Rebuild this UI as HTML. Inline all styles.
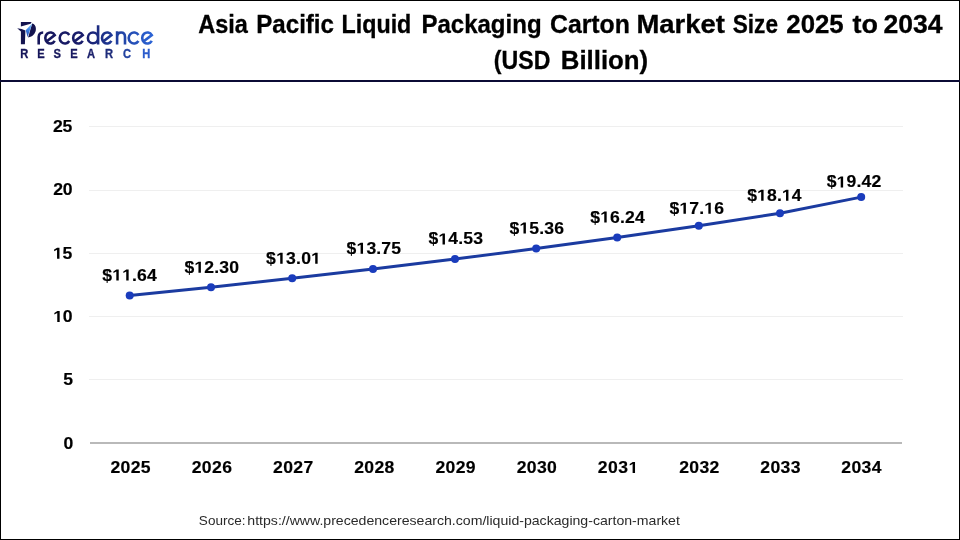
<!DOCTYPE html>
<html><head><meta charset="utf-8">
<style>
html,body{margin:0;padding:0;background:#fff;}
svg{display:block;will-change:transform;}
.b text{font-family:"Liberation Sans",sans-serif;font-weight:bold;font-size:16px;}
.b{fill:#000;stroke:#000;stroke-width:0.15px;}
.t{font-family:"Liberation Sans",sans-serif;font-weight:bold;font-size:25.2px;fill:#000;stroke:#000;stroke-width:0.3px;}
.s{font-family:"Liberation Sans",sans-serif;font-size:13px;fill:#2a2a2a;}
</style></head><body>
<svg width="960" height="540" viewBox="0 0 960 540">
<rect x="0.5" y="0.5" width="959" height="539" fill="#fff" stroke="#000" stroke-width="1"/>
<rect x="0" y="80" width="960" height="2" fill="#0b0b35"/>
<text x="198.16" y="32.60" class="t" textLength="49.69" lengthAdjust="spacingAndGlyphs">Asia</text><text x="256.19" y="32.60" class="t" textLength="77.82" lengthAdjust="spacingAndGlyphs">Pacific</text><text x="341.54" y="32.60" class="t" textLength="69.79" lengthAdjust="spacingAndGlyphs">Liquid</text><text x="421.39" y="32.60" class="t" textLength="120.22" lengthAdjust="spacingAndGlyphs">Packaging</text><text x="549.98" y="32.60" class="t" textLength="79.96" lengthAdjust="spacingAndGlyphs">Carton</text><text x="636.46" y="32.60" class="t" textLength="88.57" lengthAdjust="spacingAndGlyphs">Market</text><text x="732.75" y="32.60" class="t" textLength="45.22" lengthAdjust="spacingAndGlyphs">Size</text><text x="786.31" y="32.60" class="t" textLength="57.41" lengthAdjust="spacingAndGlyphs">2025</text><text x="852.47" y="32.60" class="t" textLength="25.48" lengthAdjust="spacingAndGlyphs">to</text><text x="883.58" y="32.60" class="t" textLength="59.06" lengthAdjust="spacingAndGlyphs">2034</text><text x="493.85" y="68.50" class="t" textLength="56.52" lengthAdjust="spacingAndGlyphs">(USD</text><text x="560.77" y="68.50" class="t" textLength="87.41" lengthAdjust="spacingAndGlyphs">Billion)</text>
<rect x="89" y="126" width="814" height="1" fill="#efefef"/><rect x="89" y="190" width="814" height="1" fill="#efefef"/><rect x="89" y="253" width="814" height="1" fill="#efefef"/><rect x="89" y="316" width="814" height="1" fill="#efefef"/><rect x="89" y="379" width="814" height="1" fill="#efefef"/>
<rect x="90" y="442" width="812" height="2" fill="#b9b9b9"/>
<g class="b"><g transform="translate(67.90,0) scale(1.1,1) translate(-67.90,0)"><text x="63.80" y="448.70">0</text></g><g transform="translate(67.72,0) scale(1.1,1) translate(-67.72,0)"><text x="63.61" y="385.40">5</text></g><g transform="translate(63.03,0) scale(1.1,1) translate(-63.03,0)"><text x="62.67" y="322.10">0</text><path transform="translate(54.05,322.10) scale(0.00781,-0.00781)" d="M478,0 L478,1170 L140,959 L140,1180 L493,1409 L759,1409 L759,0 Z"/></g><g transform="translate(62.92,0) scale(1.1,1) translate(-62.92,0)"><text x="62.45" y="258.80">5</text><path transform="translate(53.85,258.80) scale(0.00781,-0.00781)" d="M478,0 L478,1170 L140,959 L140,1180 L493,1409 L759,1409 L759,0 Z"/></g><g transform="translate(62.76,0) scale(1.1,1) translate(-62.76,0)"><text x="54.07 62.64" y="195.50">20</text></g><g transform="translate(62.65,0) scale(1.1,1) translate(-62.65,0)"><text x="53.87 62.42" y="132.20">25</text></g><g transform="translate(130.60,0) scale(1.1,1) translate(-130.60,0)"><text x="112.28 121.49 130.70 139.92" y="473.10">2025</text></g><g transform="translate(211.83,0) scale(1.1,1) translate(-211.83,0)"><text x="193.57 202.78 212.00 221.22" y="473.10">2026</text></g><g transform="translate(293.06,0) scale(1.1,1) translate(-293.06,0)"><text x="274.85 284.07 293.30 302.52" y="473.10">2027</text></g><g transform="translate(374.29,0) scale(1.1,1) translate(-374.29,0)"><text x="355.99 365.20 374.42 383.63" y="473.10">2028</text></g><g transform="translate(455.52,0) scale(1.1,1) translate(-455.52,0)"><text x="437.26 446.48 455.70 464.92" y="473.10">2029</text></g><g transform="translate(536.75,0) scale(1.1,1) translate(-536.75,0)"><text x="518.52 527.74 536.96 546.18" y="473.10">2030</text></g><g transform="translate(616.75,0) scale(1.1,1) translate(-616.75,0)"><text x="599.57 608.86 618.15" y="473.10">203</text><path transform="translate(627.44,473.10) scale(0.00781,-0.00781)" d="M478,0 L478,1170 L140,959 L140,1180 L493,1409 L759,1409 L759,0 Z"/></g><g transform="translate(699.21,0) scale(1.1,1) translate(-699.21,0)"><text x="680.97 690.19 699.41 708.63" y="473.10">2032</text></g><g transform="translate(780.44,0) scale(1.1,1) translate(-780.44,0)"><text x="762.18 771.39 780.61 789.83" y="473.10">2033</text></g><g transform="translate(861.67,0) scale(1.1,1) translate(-861.67,0)"><text x="843.18 852.38 861.59 870.79" y="473.10">2034</text></g></g>
<polyline points="129.7,295.6 211.0,287.3 292.2,278.3 373.0,268.9 455.0,259.1 536.2,248.5 617.2,237.4 698.8,225.8 780.0,213.3 861.2,197.1" fill="none" stroke="#1b3ba0" stroke-width="3"/>
<circle cx="129.7" cy="295.6" r="4" fill="#1a3cbc"/><circle cx="211.0" cy="287.3" r="4" fill="#1a3cbc"/><circle cx="292.2" cy="278.3" r="4" fill="#1a3cbc"/><circle cx="373.0" cy="268.9" r="4" fill="#1a3cbc"/><circle cx="455.0" cy="259.1" r="4" fill="#1a3cbc"/><circle cx="536.2" cy="248.5" r="4" fill="#1a3cbc"/><circle cx="617.2" cy="237.4" r="4" fill="#1a3cbc"/><circle cx="698.8" cy="225.8" r="4" fill="#1a3cbc"/><circle cx="780.0" cy="213.3" r="4" fill="#1a3cbc"/><circle cx="861.2" cy="197.1" r="4" fill="#1a3cbc"/>
<g class="b"><g transform="translate(129.60,0) scale(1.1,1) translate(-129.60,0)"><text x="104.78 131.82 136.38 145.40" y="280.60">$.64</text><path transform="translate(113.79,280.60) scale(0.00781,-0.00781)" d="M478,0 L478,1170 L140,959 L140,1180 L493,1409 L759,1409 L759,0 Z"/><path transform="translate(122.81,280.60) scale(0.00781,-0.00781)" d="M478,0 L478,1170 L140,959 L140,1180 L493,1409 L759,1409 L759,0 Z"/></g><g transform="translate(211.45,0) scale(1.1,1) translate(-211.45,0)"><text x="186.89 204.94 213.96 218.53 227.56" y="272.70">$2.30</text><path transform="translate(195.91,272.70) scale(0.00781,-0.00781)" d="M478,0 L478,1170 L140,959 L140,1180 L493,1409 L759,1409 L759,0 Z"/></g><g transform="translate(292.00,0) scale(1.1,1) translate(-292.00,0)"><text x="268.49 286.62 295.69 300.30" y="263.80">$3.0</text><path transform="translate(277.56,263.80) scale(0.00781,-0.00781)" d="M478,0 L478,1170 L140,959 L140,1180 L493,1409 L759,1409 L759,0 Z"/><path transform="translate(309.37,263.80) scale(0.00781,-0.00781)" d="M478,0 L478,1170 L140,959 L140,1180 L493,1409 L759,1409 L759,0 Z"/></g><g transform="translate(373.70,0) scale(1.1,1) translate(-373.70,0)"><text x="349.04 367.08 376.10 380.67 389.69" y="253.80">$3.75</text><path transform="translate(358.06,253.80) scale(0.00781,-0.00781)" d="M478,0 L478,1170 L140,959 L140,1180 L493,1409 L759,1409 L759,0 Z"/></g><g transform="translate(455.55,0) scale(1.1,1) translate(-455.55,0)"><text x="430.95 449.00 458.02 462.59 471.62" y="244.50">$4.53</text><path transform="translate(439.98,244.50) scale(0.00781,-0.00781)" d="M478,0 L478,1170 L140,959 L140,1180 L493,1409 L759,1409 L759,0 Z"/></g><g transform="translate(536.50,0) scale(1.1,1) translate(-536.50,0)"><text x="511.90 529.95 538.97 543.54 552.57" y="233.60">$5.36</text><path transform="translate(520.93,233.60) scale(0.00781,-0.00781)" d="M478,0 L478,1170 L140,959 L140,1180 L493,1409 L759,1409 L759,0 Z"/></g><g transform="translate(617.55,0) scale(1.1,1) translate(-617.55,0)"><text x="592.73 610.76 619.77 624.33 633.35" y="222.60">$6.24</text><path transform="translate(601.74,222.60) scale(0.00781,-0.00781)" d="M478,0 L478,1170 L140,959 L140,1180 L493,1409 L759,1409 L759,0 Z"/></g><g transform="translate(696.50,0) scale(1.1,1) translate(-696.50,0)"><text x="671.90 689.95 698.97 712.57" y="213.70">$7.6</text><path transform="translate(680.93,213.70) scale(0.00781,-0.00781)" d="M478,0 L478,1170 L140,959 L140,1180 L493,1409 L759,1409 L759,0 Z"/><path transform="translate(703.54,213.70) scale(0.00781,-0.00781)" d="M478,0 L478,1170 L140,959 L140,1180 L493,1409 L759,1409 L759,0 Z"/></g><g transform="translate(774.45,0) scale(1.1,1) translate(-774.45,0)"><text x="749.63 767.66 776.67 790.25" y="200.80">$8.4</text><path transform="translate(758.64,200.80) scale(0.00781,-0.00781)" d="M478,0 L478,1170 L140,959 L140,1180 L493,1409 L759,1409 L759,0 Z"/><path transform="translate(781.23,200.80) scale(0.00781,-0.00781)" d="M478,0 L478,1170 L140,959 L140,1180 L493,1409 L759,1409 L759,0 Z"/></g><g transform="translate(853.70,0) scale(1.1,1) translate(-853.70,0)"><text x="829.13 847.18 856.20 860.78 869.80" y="187.50">$9.42</text><path transform="translate(838.16,187.50) scale(0.00781,-0.00781)" d="M478,0 L478,1170 L140,959 L140,1180 L493,1409 L759,1409 L759,0 Z"/></g></g>
<text x="198.89" y="525.30" class="s" textLength="46.55" lengthAdjust="spacingAndGlyphs">Source:</text><text x="247.32" y="525.30" class="s" textLength="432.58" lengthAdjust="spacingAndGlyphs">https://www.precedenceresearch.com/liquid-packaging-carton-market</text>
<defs>
<linearGradient id="lg" gradientUnits="userSpaceOnUse" x1="37" y1="0" x2="154" y2="0">
<stop offset="0" stop-color="#16165a"/><stop offset="0.4" stop-color="#191d6c"/><stop offset="0.7" stop-color="#2040a0"/><stop offset="1" stop-color="#2d66d8"/></linearGradient>
<linearGradient id="lg2" gradientUnits="userSpaceOnUse" x1="20" y1="0" x2="150" y2="0">
<stop offset="0" stop-color="#16165a"/><stop offset="0.5" stop-color="#191d6c"/><stop offset="0.8" stop-color="#2545a8"/><stop offset="1" stop-color="#2f64d4"/></linearGradient>
<linearGradient id="bl" gradientUnits="userSpaceOnUse" x1="32" y1="23" x2="27" y2="37">
<stop offset="0" stop-color="#8fd0ff"/><stop offset="0.5" stop-color="#3d86e8"/><stop offset="1" stop-color="#1d3fb0"/></linearGradient>
</defs>
<g fill="#13134f">
<polygon points="20.9,21.9 31.6,21.9 30.6,23.7 20.9,26.5"/>
<path d="M17.2,28.2 Q22,28.6 25.4,30.6 L24.9,44.2 L20.9,44.2 L20.9,31.6 Z"/>
<path d="M32.1,23.5 C37.8,24.6 37.6,35.6 28.1,37.6 Z"/>
</g>
<polygon points="32.3,23.2 25.7,30.2 27.6,36.9" fill="url(#bl)"/>
<g fill="none" stroke="url(#lg)" stroke-width="2.6"><path d="M38.7,44.4 V37 Q38.9,32.6 43.2,32.5"/><path d="M46.49,41.54 L54.73,35.09 A5.1,5.5 0 1 0 54.73,40.91"/><path d="M69.26,35.00 A5.2,5.5 0 1 0 69.26,41.00"/><path d="M74.37,41.54 L82.76,35.09 A5.2,5.5 0 1 0 82.76,40.91"/><path d="M98.1,25.3 V44.4 M98.1,37.9 A5.05,5.35 0 1 0 87.9,37.9 A5.05,5.35 0 1 0 98.1,37.9"/><path d="M103.19,41.54 L111.43,35.09 A5.1,5.5 0 1 0 111.43,40.91"/><path d="M117.1,44.4 V31.3 M117.1,37 Q117.5,32.5 121.1,32.5 Q125,32.5 125,37 V44.4"/><path d="M138.44,35.00 A5.3,5.5 0 1 0 138.44,41.00"/><path d="M143.42,41.54 L151.81,35.09 A5.2,5.5 0 1 0 151.81,40.91"/></g>
<g font-family="Liberation Sans, sans-serif" font-weight="bold" font-size="13.6px"><text transform="translate(24.2,0) scale(0.82,1)" x="0" y="57.9" text-anchor="middle" fill="#15155a" stroke="#15155a" stroke-width="0.35">R</text><text transform="translate(41,0) scale(0.82,1)" x="0" y="57.9" text-anchor="middle" fill="#16165a" stroke="#16165a" stroke-width="0.35">E</text><text transform="translate(57.2,0) scale(0.82,1)" x="0" y="57.9" text-anchor="middle" fill="#17185c" stroke="#17185c" stroke-width="0.35">S</text><text transform="translate(74,0) scale(0.82,1)" x="0" y="57.9" text-anchor="middle" fill="#181a62" stroke="#181a62" stroke-width="0.35">E</text><text transform="translate(91.1,0) scale(0.82,1)" x="0" y="57.9" text-anchor="middle" fill="#1a1f6a" stroke="#1a1f6a" stroke-width="0.35">A</text><text transform="translate(109,0) scale(0.82,1)" x="0" y="57.9" text-anchor="middle" fill="#1d2b7a" stroke="#1d2b7a" stroke-width="0.35">R</text><text transform="translate(127,0) scale(0.82,1)" x="0" y="57.9" text-anchor="middle" fill="#2242a0" stroke="#2242a0" stroke-width="0.35">C</text><text transform="translate(146.2,0) scale(0.82,1)" x="0" y="57.9" text-anchor="middle" fill="#2b5ccc" stroke="#2b5ccc" stroke-width="0.35">H</text></g>

</svg>
</body></html>
